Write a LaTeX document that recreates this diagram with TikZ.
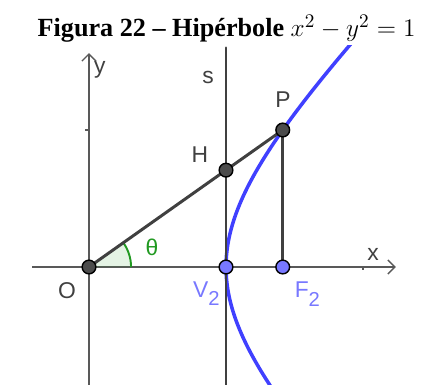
\documentclass[tikz,border=0pt]{standalone}
\usepackage[no-math]{fontspec}
\setmainfont{Liberation Serif}
\newfontfamily\geofont{Liberation Sans}
\usetikzlibrary{arrows.meta,calc}
\usepackage{tkz-euclide}
\definecolor{HypClr}{rgb}{0.25,0.25,1}
\definecolor{PtClr}{rgb}{0.47,0.47,1}
\definecolor{AngleClr}{rgb}{0.13,0.6,0.13}
\definecolor{SegClr}{rgb}{0.25,0.25,0.25}
\newcommand{\geosub}[1]{\raisebox{-5pt}{\fontsize{11.5}{11.5}\selectfont#1}}

\begin{document}
\begin{tikzpicture}[x=2.74cm,y=2.74cm,
  lbl/.style={font=\geofont\fontsize{13}{13}\selectfont,text=SegClr,inner sep=0pt},
  blbl/.style={lbl,text=PtClr},
  axis/.style={line width=0.8pt,color=black!65,-{Straight Barb[length=4pt,width=8pt]}},
  seg/.style={line width=1.7pt,color=SegClr}]
\useasboundingbox (-0.6496,-0.861) rectangle (2.438,1.949);

\tkzDefPoints{0/0/O,1/0/V,1.41421/0/F,1.41421/1/P,1/0.70711/H}
\tkzDefPoints{-0.416/0/xa,2.24/0/xb,0/-0.9/ya,0/1.562/yb,1/-0.9/sa,1/1.6/sb}

\node[anchor=base,font=\bfseries\fontsize{14.9}{15}\selectfont] (title) at (1.004,1.679)
  {Figura 22 -- Hipérbole {\mdseries\fontsize{15.2}{16}\selectfont$x^2-y^2=1$}};

% axes
\draw[axis] (xa) -- (xb);
\draw[axis] (ya) -- (yb);
\draw[line width=0.8pt,color=black!65] (0,1) -- (-0.03,1) (2,0) -- (2,-0.025);

% angle theta
\fill[AngleClr,fill opacity=0.12] (O) -- (0.307,0) arc (0:35.26:0.307) -- cycle;
\draw[AngleClr,line width=1.1pt] (0.307,0) arc (0:35.26:0.307);

% hyperbola
\begin{scope}
\clip (-0.65,-0.861) rectangle (2.438,1.62);
\draw[HypClr,line width=2pt,smooth,samples=80,domain=-0.95:1.7]
  plot ({sqrt(1+\x*\x)},\x);
\end{scope}

\tkzDrawSegments[seg](sa,sb O,P P,F)

\foreach \pt in {O,H,P}
  \draw[line width=0.8pt,fill=black!70] (\pt) circle (0.05);
\foreach \pt in {V,F}
  \draw[line width=0.8pt,fill=PtClr] (\pt) circle (0.05);

\node[lbl] (ly) at (0.080,1.438) {y};
\node[lbl] (lx) at (2.073,0.088) {x};
\node[lbl] (ls) at (0.869,1.380) {s};
\node[lbl] (lP) at (1.416,1.219) {P};
\node[lbl] (lH) at (0.810,0.818) {H};
\node[lbl] (lO) at (-0.161,-0.175) {O};
\node[lbl,text=AngleClr] (lt) at (0.460,0.146) {θ};
\node[blbl] (lV) at (0.857,-0.195) {V\geosub{2}};
\node[blbl] (lF) at (1.594,-0.200) {F\geosub{2}};

\end{tikzpicture}
\end{document}
